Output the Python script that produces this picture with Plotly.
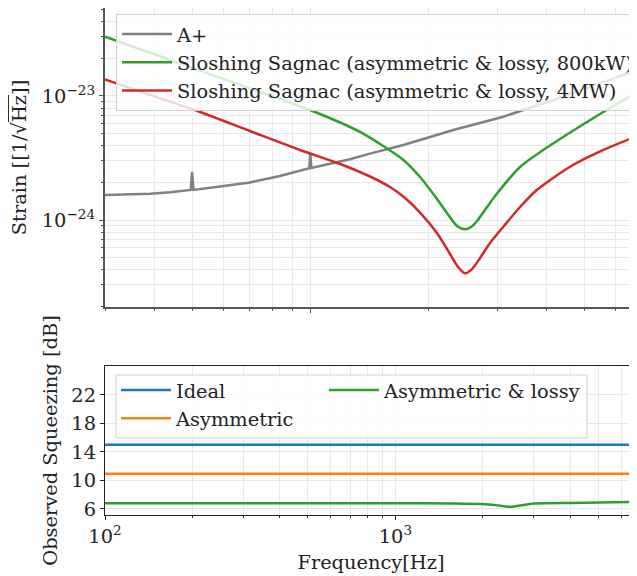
import numpy as np
import plotly.graph_objects as go

# ---------------- data ----------------
aplus_freq = [300, 347, 391, 439, 494, 496, 500, 504, 589, 702, 837, 994, 1000, 1006, 1123, 1262, 1419,
              1726, 2018, 2313, 2674, 3101, 3585, 4159, 5312, 6797]
aplus_strain = [1.59e-24, 1.602e-24, 1.63e-24, 1.675e-24, 1.745e-24, 1.75e-24, 2.44e-24, 1.75e-24, 1.863e-24,
                2.01e-24, 2.263e-24, 2.61e-24, 3.45e-24, 2.63e-24, 2.84e-24, 3.09e-24, 3.43e-24,
                4.02e-24, 4.67e-24, 5.32e-24, 6.0e-24, 6.81e-24, 7.93e-24, 9.29e-24, 1.23e-23, 1.62e-23]

sag800_freq = [300, 391, 524, 702, 998, 1338, 1726, 1903, 2102, 2229, 2364, 2477, 2567, 2658, 2819,
               2989, 3421, 4151, 5067, 6151, 6797]
sag800_strain = [3.01e-23, 2.23e-23, 1.60e-23, 1.15e-23, 7.71e-24, 5.13e-24, 3.05e-24, 2.22e-24, 1.477e-24,
                 1.139e-24, 8.94e-25, 8.41e-25, 8.78e-25, 9.81e-25, 1.273e-24, 1.636e-24, 2.676e-24,
                 4.14e-24, 6.17e-24, 8.95e-24, 1.077e-23]

sag4_freq = [300, 391, 524, 702, 941, 1191, 1419, 1596, 1743, 1903, 2102, 2269, 2378, 2477, 2577, 2706,
             2869, 3101, 3421, 3773, 4587, 5577, 6797]
sag4_strain = [1.36e-23, 1.02e-23, 7.43e-24, 5.22e-24, 3.67e-24, 2.83e-24, 2.243e-24, 1.845e-24, 1.504e-24,
               1.149e-24, 7.855e-25, 5.32e-25, 4.18e-25, 3.72e-25, 4.0e-25, 4.94e-25, 6.52e-25, 8.83e-25,
               1.273e-24, 1.745e-24, 2.69e-24, 3.67e-24, 4.76e-24]

sq_freq = [100, 6800]
ideal_db = [15.0, 15.0]
asym_db = [10.95, 10.95]
lossy_freq = [100, 1000, 1600, 2000, 2250, 2500, 2750, 3000, 4000, 6800]
lossy_db = [6.8, 6.8, 6.78, 6.7, 6.5, 6.3, 6.55, 6.78, 6.85, 6.98]

top_ytick_vals = [1e-24, 1e-23]
top_ytick_text = ["10<sup>\u221224</sup>", "10<sup>\u221223</sup>"]
bot_xtick_vals = [100, 1000]
bot_xtick_text = ["10<sup>2</sup>", "10<sup>3</sup>"]
bot_ytick_vals = [6, 10, 14, 18, 22]

# ---------------- figure ----------------
FONT = "DejaVu Serif"
FS = 19.4
OFF = 8                      # page body margin of the html page
W, H = 637 - OFF, 576 - OFF
L = 105 - OFF
PW = W - L

def px_x(p):                 # reference-image pixel -> paper fraction
    return (p - 105) / PW
def px_y(p):
    return 1 - (p - OFF) / H

fig = go.Figure()

fig.add_trace(go.Scatter(x=aplus_freq, y=aplus_strain, mode="lines", name="A+",
                         line=dict(color="#808080", width=2.5),
                         xaxis="x", yaxis="y", legend="legend"))
fig.add_trace(go.Scatter(x=sag800_freq, y=sag800_strain, mode="lines",
                         name="Sloshing Sagnac (asymmetric &amp; lossy, 800kW)",
                         line=dict(color="#2ca02c", width=2.5, shape="spline", smoothing=0.7),
                         xaxis="x", yaxis="y", legend="legend"))
fig.add_trace(go.Scatter(x=sag4_freq, y=sag4_strain, mode="lines",
                         name="Sloshing Sagnac (asymmetric &amp; lossy, 4MW)",
                         line=dict(color="#d62728", width=2.5, shape="spline", smoothing=0.7),
                         xaxis="x", yaxis="y", legend="legend"))

fig.add_trace(go.Scatter(x=sq_freq, y=ideal_db, mode="lines", name="Ideal",
                         line=dict(color="#1f77b4", width=2.5), xaxis="x2", yaxis="y2",
                         legend="legend2"))
fig.add_trace(go.Scatter(x=sq_freq, y=asym_db, mode="lines", name="Asymmetric",
                         line=dict(color="#ff7f0e", width=2.5), xaxis="x2", yaxis="y2",
                         legend="legend2"))
fig.add_trace(go.Scatter(x=lossy_freq, y=lossy_db, mode="lines", name="Asymmetric &amp; lossy",
                         line=dict(color="#2ca02c", width=2.5, shape="spline", smoothing=0.4),
                         xaxis="x2", yaxis="y2", legend="legend3"))

grid = "#e8e8e8"
top_minor_x = [300, 400, 500, 600, 700, 800, 900, 2000, 3000, 4000, 5000, 6000]
top_minor_y = [m * 1e-25 for m in range(2, 10)] + [m * 1e-24 for m in range(2, 10)] + [m * 1e-23 for m in range(2, 6)]
bot_minor_x = [200, 300, 400, 500, 600, 700, 800, 900, 2000, 3000, 4000, 5000, 6000]
dark_grid_y = [6e-25, 7e-25, 8e-25]

axis_font = dict(family=FONT, size=FS, color="#222")
leg_font = dict(family=FONT, size=FS, color="#222")

shapes = [dict(type="line", xref="x domain", yref="y", x0=0, x1=1,
               y0=np.log10(v), y1=np.log10(v), line=dict(color="#d2d2d2", width=1), layer="below")
          for v in dark_grid_y]
shapes.append(dict(type="rect", xref="paper", yref="paper",
                   x0=px_x(116), x1=px_x(587), y0=px_y(438), y1=px_y(375),
                   fillcolor="rgba(255,255,255,0.8)", line=dict(color="#d0d0d0", width=1),
                   layer="above"))

fig.update_layout(
    width=W, height=H,
    margin=dict(l=L, r=0, t=0, b=0, autoexpand=False),
    paper_bgcolor="white", plot_bgcolor="white",
    font=dict(family=FONT, size=FS, color="#222"),
    xaxis=dict(type="log", range=[np.log10(300), 3.832], domain=[0, 1], anchor="y", automargin=False,
               tickvals=[1000], showticklabels=False, ticks="outside", ticklen=4, tickcolor="#555",
               showgrid=True, gridcolor=grid, gridwidth=1,
               minor=dict(tickmode="array", tickvals=top_minor_x, ticks="outside", ticklen=2,
                          tickcolor="#555", showgrid=True, gridcolor=grid, gridwidth=1),
               showline=True, linecolor="#555", linewidth=2, mirror=True, zeroline=False),
    yaxis=dict(type="log", range=[-24.699, -22.293], domain=[px_y(306.7), px_y(8.3)], anchor="x",
               automargin=False,
               tickmode="array", tickvals=top_ytick_vals, ticktext=top_ytick_text,
               ticks="outside", ticklen=4, tickcolor="#555", tickfont=axis_font,
               showgrid=True, gridcolor=grid, gridwidth=1,
               minor=dict(tickmode="array", tickvals=top_minor_y, ticks="outside", ticklen=2,
                          tickcolor="#555", showgrid=True, gridcolor=grid, gridwidth=1),
               showline=True, linecolor="#555", linewidth=2, mirror=False, zeroline=False,
               title=dict(text="Strain [[1/\u221a<span style='text-decoration:overline'>Hz</span>]]",
                          font=axis_font, standoff=10)),
    xaxis2=dict(type="log", range=[2, 3.832], domain=[0, 1], anchor="y2", automargin=False,
                tickmode="array", tickvals=bot_xtick_vals, ticktext=bot_xtick_text,
                ticks="outside", ticklen=4, tickcolor="#222", tickfont=axis_font,
                showgrid=True, gridcolor=grid, gridwidth=1,
                minor=dict(tickmode="array", tickvals=bot_minor_x, ticks="outside", ticklen=2,
                           tickcolor="#222", showgrid=True, gridcolor=grid, gridwidth=1),
                showline=True, linecolor="#222", linewidth=1.2, mirror=True, zeroline=False,
                title=dict(text="Frequency[Hz]", font=axis_font, standoff=8)),
    yaxis2=dict(range=[5.15, 26.05], domain=[px_y(515), px_y(366)], anchor="x2", automargin=False,
                tickmode="array", tickvals=bot_ytick_vals,
                ticks="outside", ticklen=4, tickcolor="#222", tickfont=axis_font,
                showgrid=True, gridcolor=grid, gridwidth=1,
                showline=True, linecolor="#222", linewidth=1.2, mirror=False, zeroline=False,
                title=dict(text="Observed Squeezing [dB]", font=axis_font, standoff=8)),
    legend=dict(x=px_x(116), y=px_y(14), xanchor="left", yanchor="top", itemwidth=50,
                bgcolor="rgba(255,255,255,0.8)", bordercolor="#d0d0d0", borderwidth=1,
                font=leg_font, tracegroupgap=0),
    legend2=dict(x=px_x(116), y=px_y(371), xanchor="left", yanchor="top", itemwidth=50,
                 bgcolor="rgba(0,0,0,0)", borderwidth=0, font=leg_font, tracegroupgap=0),
    legend3=dict(x=px_x(324), y=px_y(371), xanchor="left", yanchor="top", itemwidth=50,
                 bgcolor="rgba(0,0,0,0)", borderwidth=0, font=leg_font),
    shapes=shapes,
    showlegend=True,
)

fig.write_html("out.html")
